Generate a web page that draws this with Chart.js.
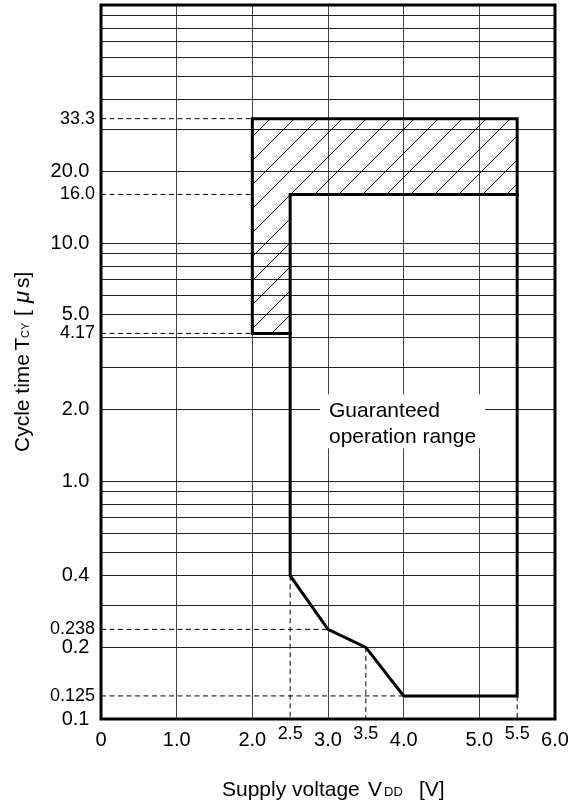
<!DOCTYPE html>
<html>
<head>
<meta charset="utf-8">
<script src="https://cdn.jsdelivr.net/npm/chart.js@4.4.1/dist/chart.umd.min.js"></script>
<style>
    html, body { margin: 0; padding: 0; background: #fff; }
</style>
</head>
<body>
<canvas id="chartCicloVoltaje" width="572" height="807"></canvas>
<script>
const FUENTE = '"Liberation Sans", Arial, Helvetica, sans-serif';

// Eje X: voltaje de alimentación VDD [V]
const ticksX = [0, 1.0, 2.0, 2.5, 3.0, 3.5, 4.0, 5.0, 5.5, 6.0];
const etiquetasX = ['0', '1.0', '2.0', '2.5', '3.0', '3.5', '4.0', '5.0', '5.5', '6.0'];
const ticksXPequenos = [2.5, 3.5, 5.5];

// Eje Y: tiempo de ciclo TCY [µs] (logarítmico)
const lineasY = [0.1, 0.2, 0.3, 0.4, 0.5, 0.6, 0.7, 0.8, 0.9,
                 1, 2, 3, 4, 5, 6, 7, 8, 9,
                 10, 20, 30, 40, 50, 60, 70, 80, 90, 100];
const ticksYValores = [0.1, 0.125, 0.2, 0.238, 0.4, 1, 2, 4.17, 5, 10, 16, 20, 33.3];
const ticksYTexto = ['0.1', '0.125', '0.2', '0.238', '0.4', '1.0', '2.0', '4.17', '5.0', '10.0', '16.0', '20.0', '33.3'];
const ticksYPequenos = [0.125, 0.238, 4.17, 16, 33.3];

// Contorno exterior (rango garantizado + zona rayada)
const contornoV = [2.0, 2.0, 5.5, 5.5, 4.0, 3.5, 3.0, 2.5, 2.5, 2.0];
const contornoT = [4.17, 33.3, 33.3, 0.125, 0.125, 0.2, 0.238, 0.4, 4.17, 4.17];
// Límite interno del rango garantizado
const limiteV = [2.5, 2.5, 5.5];
const limiteT = [4.17, 16.0, 16.0];
// Zona rayada
const rayadoV = [2.0, 2.0, 5.5, 5.5, 2.5, 2.5, 2.0];
const rayadoT = [4.17, 33.3, 33.3, 16.0, 16.0, 4.17, 4.17];

// Líneas punteadas de referencia
const guiaHValor = [33.3, 16.0, 4.17, 0.238, 0.125];
const guiaHHasta = [2.0, 2.0, 2.0, 3.0, 4.0];
const guiaVValor = [2.5, 3.5, 5.5];
const guiaVDesde = [0.4, 0.2, 0.125];

function puntos(xs, ys) {
    return xs.map((x, i) => ({ x: x, y: ys[i] }));
}

// Patrón de rayas diagonales (/)
function crearRayado() {
    const c = document.createElement('canvas');
    c.width = 24;
    c.height = 24;
    const g = c.getContext('2d');
    g.strokeStyle = '#000';
    g.lineWidth = 1;
    g.beginPath();
    g.moveTo(-1, 6); g.lineTo(6, -1);
    g.moveTo(-1, 30); g.lineTo(30, -1);
    g.stroke();
    return g.createPattern(c, 'repeat');
}

const datasets = [
    {
        data: puntos(contornoV, contornoT),
        borderColor: '#000', borderWidth: 3, borderCapStyle: 'square',
        pointRadius: 0, fill: false, tension: 0
    },
    {
        data: puntos(limiteV, limiteT),
        borderColor: '#000', borderWidth: 3, borderCapStyle: 'square',
        pointRadius: 0, fill: false, tension: 0
    }
];
guiaHValor.forEach((v, i) => {
    datasets.push({
        data: [{ x: 0, y: v }, { x: guiaHHasta[i], y: v }],
        borderColor: '#000', borderWidth: 1, borderDash: [5, 3.5],
        pointRadius: 0, fill: false
    });
});
guiaVValor.forEach((v, i) => {
    datasets.push({
        data: [{ x: v, y: guiaVDesde[i] }, { x: v, y: 0.1 }],
        borderColor: '#000', borderWidth: 1, borderDash: [5, 3.5],
        pointRadius: 0, fill: false
    });
});
datasets.push({
    data: puntos(rayadoV, rayadoT),
    borderWidth: 0, borderColor: 'rgba(0,0,0,0)',
    backgroundColor: crearRayado(),
    pointRadius: 0, fill: 'shape', tension: 0
});

// quita el margen extra que Chart.js reserva para las etiquetas
function sinRelleno(scale) {
    scale.paddingTop = 0;
    scale.paddingBottom = 0;
    scale.paddingLeft = 0;
    scale.paddingRight = 0;
}

// Textos de ejes y recuadro "Guaranteed operation range"
const textosExtra = {
    id: 'textosExtra',
    afterDatasetsDraw(chart) {
        const { ctx, scales } = chart;
        const x0 = scales.x.getPixelForValue(3.0);
        const y0 = scales.y.getPixelForValue(2.0);
        ctx.save();
        ctx.fillStyle = '#fff';
        ctx.fillRect(x0 - 8, y0 - 15, 165, 54);
        ctx.fillStyle = '#000';
        ctx.font = '21px ' + FUENTE;
        ctx.textBaseline = 'alphabetic';
        ctx.textAlign = 'left';
        ctx.fillText('Guaranteed', x0 + 1, y0 + 7.5);
        ctx.fillText('operation range', x0 + 1, y0 + 34);
        ctx.restore();
    },
    afterDraw(chart) {
        const { ctx, chartArea: a } = chart;
        ctx.save();
        // marco del gráfico
        ctx.lineWidth = 3;
        ctx.strokeStyle = '#000';
        ctx.strokeRect(a.left, a.top, a.right - a.left, a.bottom - a.top);

        ctx.fillStyle = '#000';
        ctx.textAlign = 'left';
        ctx.textBaseline = 'alphabetic';
        const piezas = (lista, base) => {
            lista.forEach(p => {
                ctx.font = (p.cursiva ? 'italic ' : '') + p.tam + 'px ' + FUENTE;
                ctx.fillText(p.t, p.pos, base);
            });
        };
        // título eje X
        piezas([
            { t: 'Supply voltage', tam: 21, pos: 222 },
            { t: 'V', tam: 21, pos: 368 },
            { t: 'DD', tam: 13, pos: 384 },
            { t: '[V]', tam: 21, pos: 419 }
        ], 795.5);
        // título eje Y (rotado)
        ctx.translate(28.5, 0);
        ctx.rotate(-Math.PI / 2);
        piezas([
            { t: 'Cycle time', tam: 21, pos: -452 },
            { t: 'T', tam: 21, pos: -350.5 },
            { t: 'CY', tam: 11, pos: -338 },
            { t: '[', tam: 21, pos: -316 },
            { t: 'μ', tam: 22, pos: -303, cursiva: true },
            { t: 's]', tam: 21, pos: -288 }
        ], 0);
        ctx.restore();
    }
};

new Chart(document.getElementById('chartCicloVoltaje'), {
    type: 'line',
    data: { datasets: datasets },
    plugins: [textosExtra],
    options: {
        responsive: false,
        animation: false,
        layout: { padding: { top: 5, right: 17, left: 0, bottom: 0 } },
        plugins: { legend: { display: false }, tooltip: { enabled: false } },
        scales: {
            x: {
                type: 'linear',
                min: 0,
                max: 6,
                afterBuildTicks: (scale) => { scale.ticks = ticksX.map(v => ({ value: v })); },
                afterFit: (scale) => { scale.height = 88; sinRelleno(scale); },
                border: { display: false },
                grid: {
                    drawTicks: false,
                    lineWidth: 1,
                    color: (ctx) => {
                        const v = ctx.tick ? ctx.tick.value : null;
                        if (v === 0 || v === 6 || ticksXPequenos.includes(v)) return 'rgba(0,0,0,0)';
                        return '#444';
                    }
                },
                ticks: {
                    autoSkip: false,
                    maxRotation: 0,
                    padding: 9.3,
                    color: '#000',
                    callback: (v) => {
                        const i = ticksX.indexOf(v);
                        return i >= 0 ? etiquetasX[i] : '';
                    },
                    font: (ctx) => {
                        const v = ctx.tick ? ctx.tick.value : null;
                        if (ticksXPequenos.includes(v)) return { family: FUENTE, size: 18, lineHeight: 0.63 };
                        return { family: FUENTE, size: 20, lineHeight: 1.2 };
                    }
                }
            },
            y: {
                type: 'logarithmic',
                min: 0.1,
                max: 100,
                afterBuildTicks: (scale) => {
                    const todos = lineasY.concat(ticksYPequenos).sort((a, b) => a - b);
                    scale.ticks = todos.map(v => ({ value: v }));
                },
                afterFit: (scale) => { scale.width = 101; sinRelleno(scale); },
                border: { display: false },
                grid: {
                    drawTicks: false,
                    lineWidth: 1,
                    color: (ctx) => {
                        const v = ctx.tick ? ctx.tick.value : null;
                        if (v === 0.1 || v === 100 || ticksYPequenos.includes(v)) return 'rgba(0,0,0,0)';
                        return '#222';
                    }
                },
                ticks: {
                    autoSkip: false,
                    padding: 6,
                    color: '#000',
                    callback: (v) => {
                        const i = ticksYValores.indexOf(v);
                        if (i < 0) return '';
                        return ticksYPequenos.includes(v) ? ticksYTexto[i] : ticksYTexto[i] + ' ';
                    },
                    font: (ctx) => {
                        const v = ctx.tick ? ctx.tick.value : null;
                        if (ticksYPequenos.includes(v)) return { family: FUENTE, size: 18 };
                        return { family: FUENTE, size: 20 };
                    }
                }
            }
        }
    }
});
</script>
</body>
</html>
